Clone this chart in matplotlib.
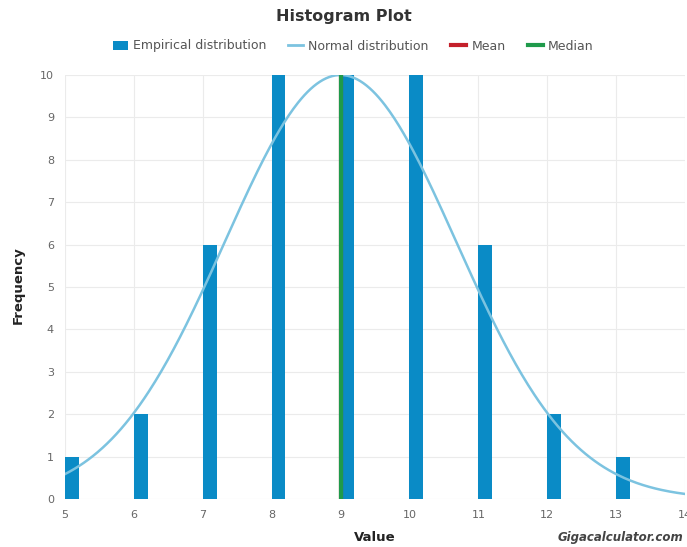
import numpy as np
import matplotlib
matplotlib.use("Agg")
import matplotlib.pyplot as plt
from matplotlib.patches import Patch
from matplotlib.lines import Line2D

values = [5, 6, 7, 8, 9, 10, 11, 12, 13]
freqs = [1, 2, 6, 10, 10, 10, 6, 2, 1]
mean_val = 9.0
median_val = 9.0
norm_sd = 1.68
norm_peak = 10.0
xticks = [5, 6, 7, 8, 9, 10, 11, 12, 13, 14]
yticks = list(range(0, 11))

bar_color = "#0a8bc6"
curve_color = "#7cc3e0"
mean_color = "#c4202b"
median_color = "#1f9a4b"
text_color = "#666666"

fig = plt.figure(figsize=(6.87, 5.47), dpi=100)
ax = fig.add_axes([65/687, 1-499/547, 620/687, 424/547])

ax.bar(values, freqs, width=0.2, align="edge", color=bar_color, zorder=2)
xs = np.linspace(5, 14, 400)
ys = norm_peak * np.exp(-((xs - mean_val) ** 2) / (2 * norm_sd ** 2))
ax.plot(xs, ys, color=curve_color, lw=1.8, zorder=3)
ax.plot([mean_val, mean_val], [0, 10], color=mean_color, lw=3, zorder=4)
ax.plot([median_val, median_val], [0, 10], color=median_color, lw=3, zorder=5)

ax.set_xlim(5, 14)
ax.set_ylim(0, 10)
ax.set_xticks(xticks)
ax.set_yticks(yticks)
ax.grid(True, color="#ebebeb", lw=0.8, zorder=0)
for s in ax.spines.values():
    s.set_visible(False)
ax.tick_params(length=0, labelsize=8, colors=text_color, pad=8)

ax.set_xlabel("Value", fontsize=9.5, fontweight="bold", color="#222222", labelpad=8)
fig.text(18/687, 1-285/547, "Frequency", rotation=90, ha="center", va="center",
         fontsize=9.5, fontweight="bold", color="#222222")

fig.text(0.5, 1-17/547, "Histogram Plot", ha="center", va="center",
         fontsize=11.5, fontweight="bold", color="#333333")
handles = [Patch(facecolor=bar_color, label="Empirical distribution"),
           Line2D([0], [0], color=curve_color, lw=2, label="Normal distribution"),
           Line2D([0], [0], color=mean_color, lw=3, label="Mean"),
           Line2D([0], [0], color=median_color, lw=3, label="Median")]
fig.legend(handles=handles, loc="center", bbox_to_anchor=(353/687, 1-46/547), ncol=4,
           frameon=False, fontsize=9, labelcolor="#555555", handlelength=1.2,
           handletextpad=0.4, columnspacing=1.8)
fig.text(683/687, 1-538/547, "Gigacalculator.com", ha="right", va="center",
         fontsize=8.5, fontstyle="italic", fontweight="bold", color="#444444")

fig.savefig("out.png", dpi=100)
